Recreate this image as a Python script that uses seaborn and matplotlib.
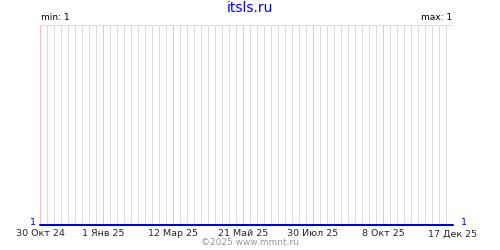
import matplotlib
matplotlib.use("Agg")
import matplotlib.pyplot as plt
import seaborn as sns
import pandas as pd

# Data
dates = ["2024-10-30", "2025-12-17"]
values = [1, 1]
tick_dates = ["2024-10-30", "2025-01-01", "2025-03-12", "2025-05-21",
              "2025-07-30", "2025-10-08", "2025-12-17"]
tick_labels = ["30 Окт 24", "1 Янв 25", "12 Мар 25", "21 Май 25",
               "30 Июл 25", "8 Окт 25", "17 Дек 25"]
title = "itsls.ru"
min_label = "min: 1"
max_label = "max: 1"
footer = "©2025 www.mmnt.ru"

sns.set_style("white")
plt.rcParams["font.family"] = ["DejaVu Sans"]

df = pd.DataFrame({"date": pd.to_datetime(dates), "value": values})

fig = plt.figure(figsize=(5, 2.5), dpi=100)
ax = fig.add_axes([0.08, 0.1, 0.826, 0.802])

sns.lineplot(data=df, x="date", y="value", ax=ax, color="#0000cc", lw=1.44,
             zorder=3, clip_on=False)

start = pd.Timestamp(dates[0])
end = pd.Timestamp(dates[-1])
ticks = pd.to_datetime(tick_dates)
tick_set = set(ticks)

px = 0.72  # one pixel in points

# weekly grid lines
weeks = pd.date_range(start, end, freq="7D")
for w in weeks:
    if w in tick_set:
        continue
    ax.axvline(w, color="#dcdcdc", lw=px, zorder=0, snap=True)
for t in ticks:
    ax.axvline(t, color="#ffbcbc", lw=px, zorder=1, snap=True)

ax.set_xlim(start, end)
ax.set_ylim(1, 2)
ax.set_xticks(ticks)
ax.set_xticklabels(tick_labels, fontsize=6.8)
ax.tick_params(axis="x", length=0, pad=3)
ax.set_yticks([])
ax.set_xlabel("")
ax.set_ylabel("")
for s in ["left", "right", "bottom"]:
    ax.spines[s].set_visible(False)
ax.spines["top"].set_color("#dcdcdc")
ax.spines["top"].set_linewidth(px)

fig.text(0.5, 0.968, title, ha="center", va="center", color="#0000ff", fontsize=10)
fig.text(0.082, 0.93, min_label, ha="left", va="center", color="black", fontsize=6.5)
fig.text(0.904, 0.93, max_label, ha="right", va="center", color="black", fontsize=6.5)
fig.text(0.072, 0.11, str(values[0]), ha="right", va="center", color="#0000cc", fontsize=6.8)
fig.text(0.922, 0.11, str(values[-1]), ha="left", va="center", color="#0000cc", fontsize=6.8)
fig.text(0.5, 0.03, footer, ha="center", va="center", color="#999999", fontsize=6.5)

fig.savefig("out.png", dpi=100)
